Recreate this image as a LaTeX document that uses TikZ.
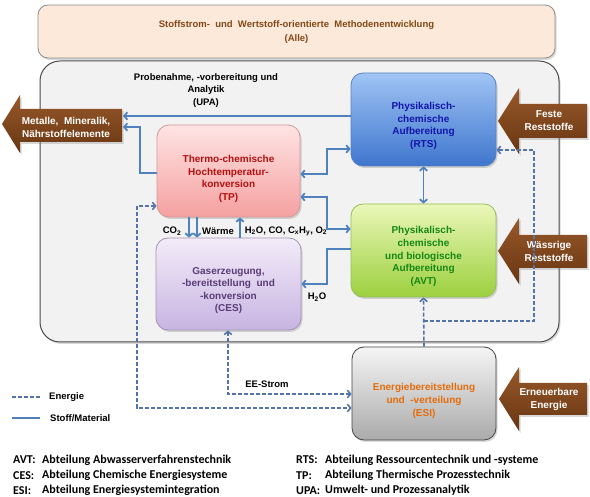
\documentclass[tikz,border=0pt]{standalone}
\usepackage{fontspec}
\setmainfont{Liberation Sans}
\newfontfamily\legfont{Carlito}
\usetikzlibrary{arrows.meta,shadows}
\definecolor{flowc}{RGB}{79,129,189}
\definecolor{energyc}{RGB}{84,116,168}
\definecolor{topfill}{RGB}{253,233,217}
\definecolor{toptext}{RGB}{130,72,22}
\definecolor{graybg}{RGB}{242,242,242}
\definecolor{tpT}{RGB}{255,228,228}
\definecolor{tpB}{RGB}{245,160,160}
\definecolor{tpD}{RGB}{215,150,150}
\definecolor{tpX}{RGB}{180,16,16}
\definecolor{rtsT}{RGB}{160,196,244}
\definecolor{rtsB}{RGB}{62,118,206}
\definecolor{rtsD}{RGB}{90,130,190}
\definecolor{rtsX}{RGB}{20,20,170}
\definecolor{avtT}{RGB}{234,247,185}
\definecolor{avtB}{RGB}{156,208,62}
\definecolor{avtD}{RGB}{150,190,90}
\definecolor{avtX}{RGB}{20,135,20}
\definecolor{cesT}{RGB}{243,236,249}
\definecolor{cesB}{RGB}{200,180,226}
\definecolor{cesD}{RGB}{160,150,180}
\definecolor{cesX}{RGB}{90,60,120}
\definecolor{esiT}{RGB}{245,245,245}
\definecolor{esiB}{RGB}{170,170,170}
\definecolor{esiD}{RGB}{70,70,70}
\definecolor{esiX}{RGB}{228,108,10}
\definecolor{brT}{RGB}{152,88,42}
\definecolor{brB}{RGB}{104,54,18}
\begin{document}
\begin{tikzpicture}[x=1pt,y=1pt,
  >={Straight Barb[length=3.2pt,width=7.5pt]},
  procbox/.style={rectangle, rounded corners=12pt, line width=0.8pt, inner sep=0pt,
    drop shadow={opacity=0.3,shadow xshift=1.5pt,shadow yshift=-2pt}},
  boxtext/.style={font=\bfseries\fontsize{10}{12.6}\selectfont, align=center, inner sep=0pt},
  plaintext/.style={font=\bfseries\fontsize{9.5}{12.5}\selectfont, align=center, inner sep=0pt},
  arrowtext/.style={font=\bfseries\fontsize{10}{13}\selectfont, align=center, text=white, inner sep=0pt},
  brownarrow/.style={top color=brT, bottom color=brB, draw=none,
    drop shadow={opacity=0.3,shadow xshift=1.5pt,shadow yshift=-2pt}},
  flow/.style={draw=flowc, line width=1.8pt},
  energy/.style={draw=energyc, line width=1.6pt, dash pattern=on 4pt off 2pt},
  legtext/.style={font=\legfont\bfseries\fontsize{12}{13}\selectfont, anchor=west, inner sep=0pt}
]
\useasboundingbox (0,0) rectangle (590,-497);
\fill[white] (0,0) rectangle (590,-497);

% top box
\node[procbox, fill=topfill, draw=black!45, rounded corners=10pt,
      minimum width=517pt, minimum height=53pt] (alle) at (296.5,-31.5) {};
\node[font=\bfseries\fontsize{9.5}{13.5}\selectfont, align=center, text=toptext, inner sep=0pt]
  (alleT) at (296.5,-32) {Stoffstrom-\ \ und\ \ Wertstoff-orientierte\ \ Methodenentwicklung\\(Alle)};

% main gray box
\node[procbox, fill=graybg, draw=black!70, line width=1pt, rounded corners=20pt,
      minimum width=519pt, minimum height=281pt] (main) at (299.5,-201.5) {};
\node[plaintext] (upa) at (206,-90.5) {Probenahme, -vorbereitung und\\Analytik\\(UPA)};

% brown block arrows
\path[brownarrow] (122,-109) -- (20,-109) -- (20,-95) -- (2,-124) -- (20,-153)
  -- (20,-142) -- (122,-142) -- cycle;
\node[arrowtext] (met) at (66,-127.5) {Metalle,\ \ Mineralik,\\Nährstoffelemente};
\path[brownarrow] (587,-104) -- (519,-104) -- (519,-88) -- (498,-121) -- (519,-154)
  -- (519,-138) -- (587,-138) -- cycle;
\node[arrowtext] (feste) at (549,-120.5) {Feste\\Reststoffe};
\path[brownarrow] (587,-235) -- (519,-235) -- (519,-218) -- (498,-251) -- (519,-284)
  -- (519,-268) -- (587,-268) -- cycle;
\node[arrowtext] (waess) at (549,-251) {Wässrige\\Reststoffe};
\path[brownarrow] (587,-383) -- (519,-383) -- (519,-367) -- (499,-399) -- (519,-431)
  -- (519,-415) -- (587,-415) -- cycle;
\node[arrowtext] (erneu) at (549,-399.5) {Erneuerbare\\Energie};

% process boxes
\node[procbox, top color=tpT, bottom color=tpB, draw=tpD,
      minimum width=143pt, minimum height=92pt] (TP) at (228.5,-171) {};
\node[boxtext, text=tpX] (TPt) at (228.5,-179) {Thermo-chemische\\Hochtemperatur-\\konversion\\(TP)};
\node[procbox, top color=rtsT, bottom color=rtsB, draw=rtsD,
      minimum width=145pt, minimum height=93pt] (RTS) at (423.5,-119.5) {};
\node[boxtext, text=rtsX] (RTSt) at (423.5,-126) {Physikalisch-\\chemische\\Aufbereitung\\(RTS)};
\node[procbox, top color=avtT, bottom color=avtB, draw=avtD,
      minimum width=145pt, minimum height=93pt] (AVT) at (423.5,-250.5) {};
\node[boxtext, text=avtX] (AVTt) at (423.5,-256.5) {Physikalisch-\\chemische\\und biologische\\Aufbereitung\\(AVT)};
\node[procbox, top color=cesT, bottom color=cesB, draw=cesD,
      minimum width=145pt, minimum height=92pt] (CES) at (228.5,-284) {};
\node[boxtext, text=cesX] (CESt) at (228.5,-290.5) {Gaserzeugung,\\-bereitstellung\ \ und\\-konversion\\(CES)};
\node[procbox, top color=esiT, bottom color=esiB, draw=esiD,
      minimum width=144pt, minimum height=93pt] (ESI) at (424,-393.5) {};
\node[boxtext, text=esiX] (ESIt) at (424,-401) {Energiebereitstellung\\und\ \ -verteilung\\(ESI)};

% solid flows
\coordinate (metA) at (123,-116);
\coordinate (metB) at (123,-127);
\draw[flow,->] (RTS.west |- 0,-116) -- (metA);
\draw[flow,->] (TP.west |- 0,-173) -- ++(-17,0) |- (metB);
\draw[flow,<->] (TP.east |- 0,-174) -| (327,-149) -- (RTS.west |- 0,-149);
\draw[flow,<->] (TP.east |- 0,-197) -| (327,-229) -- (AVT.west |- 0,-229);
\draw[flow,<->] (RTS.south) -- (AVT.north);
\draw[flow,->] (AVT.west |- 0,-249) -| (327,-284) -- (CES.east |- 0,-284);
\draw[flow,->] (TP.south -| 189,0) -- (CES.north -| 189,0);
\draw[flow,->] (TP.south -| 197,0) -- (CES.north -| 197,0);
\draw[flow,->] (CES.north -| 240,0) -- (TP.south -| 240,0);

% labels
\node[plaintext] (co2) at (172,-231) {CO\textsubscript{2}};
\node[plaintext] (waerme) at (218,-231) {Wärme};
\node[plaintext] (gases) at (286,-231) {H\textsubscript{2}O, CO, C\textsubscript{x}H\textsubscript{y}, O\textsubscript{2}};
\node[plaintext] (h2o) at (317,-297) {H\textsubscript{2}O};
\node[plaintext] (ee) at (267,-384) {EE-Strom};

% energy flows
\draw[energy,<->] (CES.south -| 228,0) |- (ESI.west |- 0,-394);
\draw[energy,<->] (TP.west |- 0,-206) -| (137,-408) -- (ESI.west |- 0,-408);
\draw[energy,->] (ESI.north) -- (AVT.south);
\coordinate (br) at (424,-321);
\draw[energy,->] (br) -| (534,-150) -- (RTS.east |- 0,-150);

% legend
\coordinate (le1) at (12,-397);
\coordinate (le2) at (40,-397);
\coordinate (ls1) at (12,-418);
\coordinate (ls2) at (40,-418);
\draw[energy] (le1) -- (le2);
\draw[flow] (ls1) -- (ls2);
\node[plaintext, anchor=west] (legE) at (49,-397) {Energie};
\node[plaintext, anchor=west] (legS) at (50,-418) {Stoff/Material};

% abbreviations
\node[legtext] (kAVT) at (13,-460) {AVT:};
\node[legtext] (dAVT) at (42,-460) {Abteilung Abwasserverfahrenstechnik};
\node[legtext] (kCES) at (13,-475.5) {CES:};
\node[legtext] (dCES) at (42,-475.5) {Abteilung Chemische Energiesysteme};
\node[legtext] (kESI) at (13,-490.5) {ESI:};
\node[legtext] (dESI) at (42,-490.5) {Abteilung Energiesystemintegration};
\node[legtext] (kRTS) at (296,-460) {RTS:};
\node[legtext] (dRTS) at (325,-460) {Abteilung Ressourcentechnik und -systeme};
\node[legtext] (kTP) at (296,-475.5) {TP:};
\node[legtext] (dTP) at (325,-475.5) {Abteilung Thermische Prozesstechnik};
\node[legtext] (kUPA) at (296,-490.5) {UPA:};
\node[legtext] (dUPA) at (325,-490.5) {Umwelt- und Prozessanalytik};
\end{tikzpicture}
\end{document}
